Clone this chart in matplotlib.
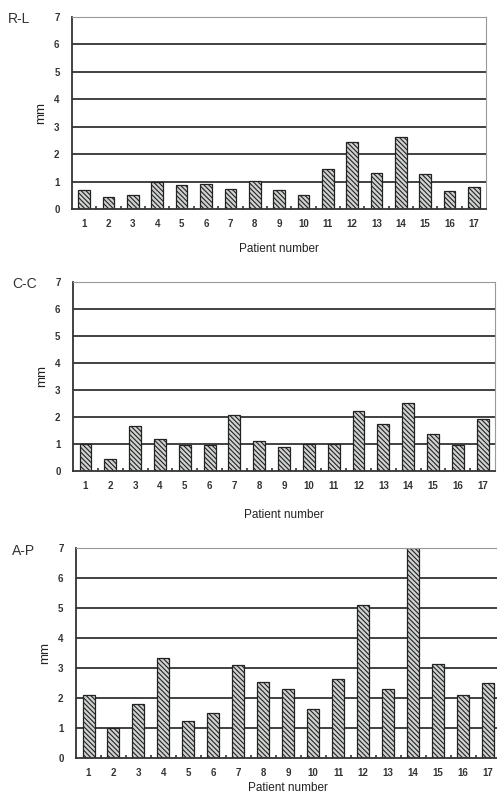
import numpy as np
import matplotlib.pyplot as plt

plt.rcParams['font.family'] = 'Liberation Sans'
plt.rcParams['hatch.linewidth'] = 0.8
plt.rcParams['hatch.color'] = '#2a2a2a'

patients = list(range(1, 18))
rl = [0.7, 0.43, 0.53, 0.98, 0.87, 0.9, 0.73, 1.02, 0.68, 0.52, 1.45, 2.43, 1.31, 2.64, 1.28, 0.66, 0.8]
cc = [0.99, 0.43, 1.67, 1.19, 0.97, 0.97, 2.05, 1.12, 0.9, 1.0, 1.0, 2.22, 1.74, 2.5, 1.38, 0.95, 1.9]
ap = [2.1, 1.0, 1.8, 3.33, 1.25, 1.49, 3.1, 2.55, 2.32, 1.63, 2.65, 5.12, 2.3, 7.0, 3.13, 2.12, 2.5]
panel_names = ['R-L', 'C-C', 'A-P']

fig = plt.figure(figsize=(4.97, 7.98), dpi=100)

# axes boxes in figure fraction (left, bottom, width, height)
boxes = [(0.145, 0.738, 0.833, 0.241),
         (0.147, 0.410, 0.849, 0.237),
         (0.153, 0.050, 0.854, 0.263)]
xpads = [10, 13, 3]

for vals, name, box, xp in zip([rl, cc, ap], panel_names, boxes, xpads):
    ax = fig.add_axes(box)
    for g in range(1, 7):
        ax.axhline(g, color='#333333', lw=1.3, zorder=1)
    ax.bar(patients, vals, width=0.48, color='#cfd3cf', edgecolor='#222222',
           hatch='\\' * 7, linewidth=0.9, zorder=2)
    ax.set_xlim(0.5, 17.5)
    ax.set_ylim(0, 7)
    ax.set_xticks(patients)
    ax.set_xticklabels([str(p) for p in patients], fontweight='bold')
    ax.set_yticks(range(0, 8))
    ax.set_yticklabels([str(t) for t in range(0, 8)], fontweight='bold')
    ax.set_xticks(np.arange(1.5, 17.5, 1), minor=True)
    ax.tick_params(axis='x', which='major', length=0, pad=7, labelsize=7, colors='#333333')
    ax.tick_params(axis='x', which='minor', length=2, direction='in', width=1.2, color='#333333')
    ax.tick_params(axis='y', length=0, pad=9, labelsize=7, colors='#333333')
    ax.spines['left'].set_color('#333333')
    ax.spines['left'].set_linewidth(1.3)
    ax.spines['bottom'].set_color('#333333')
    ax.spines['bottom'].set_linewidth(1.3)
    ax.spines['top'].set_color('#999999')
    ax.spines['right'].set_color('#999999')
    ax.set_xlabel('Patient number', fontsize=8.5, color='#222222', labelpad=xp)
    ax.set_ylabel('mm', fontsize=9.5, color='#222222', labelpad=5)
    fig.text(0.015 if name == 'R-L' else 0.025, box[1] + box[3] - 0.003, name,
             fontsize=10, color='#333333', va='center', ha='left')

fig.savefig('out.png', dpi=100)
